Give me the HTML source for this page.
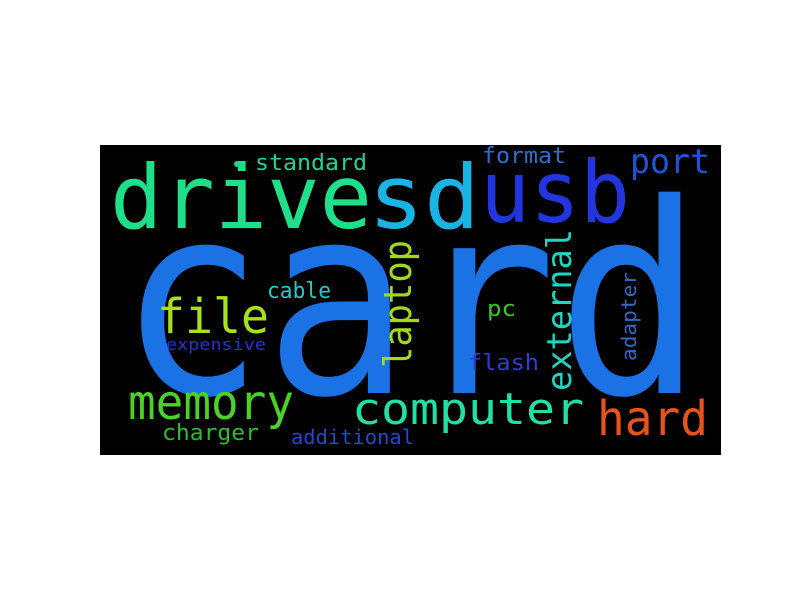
<!DOCTYPE html>
<html><head><meta charset="utf-8"><style>
html,body{margin:0;padding:0;background:#fff;}
svg text{font-family:"DejaVu Sans Mono","Liberation Mono",monospace;}
</style></head><body>
<svg width="800" height="600" viewBox="0 0 800 600">
<rect x="100" y="145" width="621" height="310" fill="#000"/>
<text x="118" y="393" font-size="265" fill="#1a72e4" textLength="585" lengthAdjust="spacingAndGlyphs">card</text>
<text x="110" y="228" font-size="88" fill="#1fe08a" textLength="262" lengthAdjust="spacingAndGlyphs">drive</text>
<text x="368" y="228" font-size="88" fill="#1ab4e4" textLength="112" lengthAdjust="spacingAndGlyphs">sd</text>
<text x="480" y="222" font-size="86" fill="#2236e0" textLength="150" lengthAdjust="spacingAndGlyphs">usb</text>
<text x="630" y="173" font-size="34" fill="#1d55d8" textLength="80" lengthAdjust="spacingAndGlyphs">port</text>
<text x="482" y="163" font-size="22" fill="#2a6fd0" textLength="84" lengthAdjust="spacingAndGlyphs">format</text>
<text x="255" y="170" font-size="22" fill="#1fd29a" textLength="112" lengthAdjust="spacingAndGlyphs">standard</text>
<circle cx="237" cy="164" r="3" fill="#1fd29a"/>
<text transform="translate(411,368) rotate(-90)" font-size="38" fill="#a2d81e" textLength="128" lengthAdjust="spacingAndGlyphs">laptop</text>
<text transform="translate(571,391) rotate(-90)" font-size="34" fill="#1fd6c0" textLength="162" lengthAdjust="spacingAndGlyphs">external</text>
<text transform="translate(636,361) rotate(-90)" font-size="20" fill="#2f6ac8" textLength="89" lengthAdjust="spacingAndGlyphs">adapter</text>
<text x="157" y="333" font-size="48" fill="#a8e01c" textLength="112" lengthAdjust="spacingAndGlyphs">file</text>
<text x="267" y="298" font-size="22" fill="#25c9c7" textLength="64" lengthAdjust="spacingAndGlyphs">cable</text>
<text x="166" y="350" font-size="16" fill="#2234cf" textLength="100" lengthAdjust="spacingAndGlyphs">expensive</text>
<text x="487" y="316" font-size="22" fill="#3cc628" textLength="29" lengthAdjust="spacingAndGlyphs">pc</text>
<text x="468" y="370" font-size="22" fill="#2c3ed6" textLength="71" lengthAdjust="spacingAndGlyphs">flash</text>
<text x="128" y="419" font-size="48" fill="#4ad226" textLength="166" lengthAdjust="spacingAndGlyphs">memory</text>
<text x="352" y="424" font-size="44" fill="#21e0a4" textLength="232" lengthAdjust="spacingAndGlyphs">computer</text>
<text x="597" y="435" font-size="48" fill="#e8531c" textLength="111" lengthAdjust="spacingAndGlyphs">hard</text>
<text x="162" y="440" font-size="22" fill="#2bbd2e" textLength="97" lengthAdjust="spacingAndGlyphs">charger</text>
<text x="291" y="444" font-size="20" fill="#2448c8" textLength="123" lengthAdjust="spacingAndGlyphs">additional</text>
</svg>
</body></html>
